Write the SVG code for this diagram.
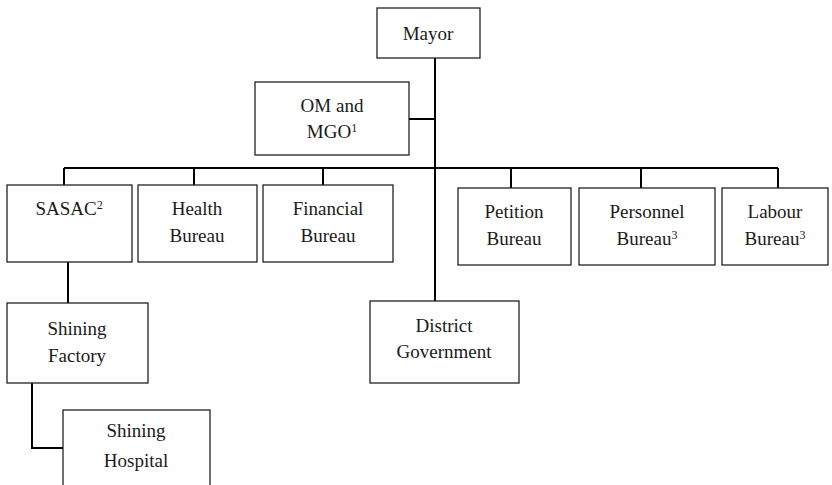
<svg xmlns="http://www.w3.org/2000/svg" width="832" height="485" viewBox="0 0 832 485">
<style>
.box{fill:#fff;stroke:#222;stroke-width:1.3}
text{font-family:'Liberation Serif','Times New Roman',serif;font-size:19px;fill:#1a1a1a;text-anchor:middle}
.sup{font-size:12px}
.c{fill:none;stroke:#000;stroke-width:2}
</style>
<rect width="832" height="485" fill="#fff"/>
<g id="connectors">
<path class="c" d="M435 58V301"/>
<path class="c" d="M409 119H435"/>
<path class="c" d="M64 168H778"/>
<path class="c" d="M64 168V185M194 168V185M323 168V185M511 168V188M641 168V188M778 168V188"/>
<path class="c" d="M68 262V303"/>
<path class="c" d="M32 383V448H63"/>
</g>
<g id="mayor"><rect class="box" x="377" y="8" width="103" height="50"/><text x="428" y="40">Mayor</text></g>
<g id="om"><rect class="box" x="255" y="82" width="154" height="73"/><text x="332" y="112">OM and</text><text x="332" y="138">MGO<tspan class="sup" dy="-6">1</tspan></text></g>
<g id="sasac"><rect class="box" x="7" y="185" width="125" height="77"/><text x="69" y="215">SASAC<tspan class="sup" dy="-6">2</tspan></text></g>
<g id="health"><rect class="box" x="138" y="185" width="119" height="77"/><text x="197" y="215">Health</text><text x="197" y="242">Bureau</text></g>
<g id="financial"><rect class="box" x="263" y="185" width="130" height="77"/><text x="328" y="215">Financial</text><text x="328" y="242">Bureau</text></g>
<g id="petition"><rect class="box" x="458" y="188" width="113" height="77"/><text x="514" y="218">Petition</text><text x="514" y="245">Bureau</text></g>
<g id="personnel"><rect class="box" x="579" y="188" width="136" height="77"/><text x="647" y="218">Personnel</text><text x="647" y="245">Bureau<tspan class="sup" dy="-6">3</tspan></text></g>
<g id="labour"><rect class="box" x="722" y="188" width="106" height="77"/><text x="775" y="218">Labour</text><text x="775" y="245">Bureau<tspan class="sup" dy="-6">3</tspan></text></g>
<g id="factory"><rect class="box" x="7" y="303" width="141" height="80"/><text x="77" y="335">Shining</text><text x="77" y="362">Factory</text></g>
<g id="district"><rect class="box" x="370" y="301" width="149" height="82"/><text x="444" y="332">District</text><text x="444" y="358">Government</text></g>
<g id="hospital"><rect class="box" x="63" y="410" width="147" height="90"/><text x="136" y="437">Shining</text><text x="136" y="467">Hospital</text></g>
</svg>
